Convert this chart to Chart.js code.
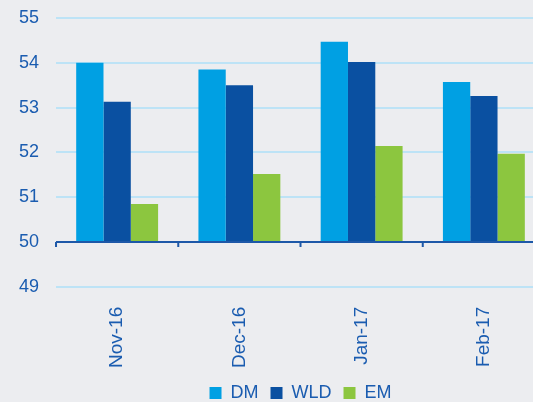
<!DOCTYPE html>
<html>
<head>
<meta charset="utf-8">
<script src="https://cdn.jsdelivr.net/npm/chart.js@4/dist/chart.umd.min.js"></script>
<style>
  html, body { margin: 0; padding: 0; background: #ecedf0; overflow: hidden; }
  #wrap { width: 545px; height: 402px; }
</style>
</head>
<body>
<div id="wrap"><canvas id="chart" width="545" height="402"></canvas></div>
<script>
const months = ['Nov-16', 'Dec-16', 'Jan-17', 'Feb-17'];
const dm = [54.0, 53.85, 54.47, 53.57];
const wld = [53.13, 53.5, 54.02, 53.26];
const em = [50.85, 51.52, 52.14, 51.97];
const yTicks = [49, 50, 51, 52, 53, 54, 55];

const textColor = '#1a5cb0';
const axisColor = '#1d58a8';
const font = { family: 'Liberation Sans, Arial, sans-serif', size: 18 };

// x axis line drawn at 50 with small tick marks between the months
const baseLine = {
    id: 'baseLine',
    afterDatasetsDraw(chart) {
        const ctx = chart.ctx;
        const x = chart.scales.x;
        const y = chart.scales.y.getPixelForValue(50);
        ctx.save();
        ctx.strokeStyle = axisColor;
        ctx.lineWidth = 2;
        ctx.beginPath();
        ctx.moveTo(x.left, y);
        ctx.lineTo(x.right, y);
        const step = (x.right - x.left) / months.length;
        for (let i = 0; i <= months.length; i++) {
            ctx.moveTo(x.left + i * step, y);
            ctx.lineTo(x.left + i * step, y + 5);
        }
        ctx.stroke();
        ctx.restore();
    }
};

new Chart(document.getElementById('chart').getContext('2d'), {
    type: 'bar',
    data: {
        labels: months,
        datasets: [
            { label: 'DM', data: dm, backgroundColor: '#00a0e3', base: 50 },
            { label: 'WLD', data: wld, backgroundColor: '#0a50a1', base: 50 },
            { label: 'EM', data: em, backgroundColor: '#8cc63f', base: 50 }
        ]
    },
    options: {
        responsive: false,
        animation: false,
        categoryPercentage: 0.67,
        barPercentage: 1.0,
        layout: { padding: { left: 2, top: 18, right: 0, bottom: -10 } },
        plugins: {
            tooltip: { enabled: false },
            legend: {
                position: 'bottom',
                fullSize: false,
                labels: {
                    boxWidth: 12,
                    boxHeight: 12,
                    padding: 12,
                    color: textColor,
                    font: font
                }
            }
        },
        scales: {
            x: {
                grid: { display: false },
                border: { display: false },
                ticks: {
                    color: textColor,
                    font: { family: font.family, size: 19 },
                    minRotation: 90,
                    maxRotation: 90,
                    padding: 12
                },
                afterFit(scale) { scale.height -= 8; }
            },
            y: {
                min: 49,
                max: 55,
                afterBuildTicks(scale) { scale.ticks = yTicks.map(v => ({ value: v })); },
                afterFit(scale) { scale.paddingTop = 0; scale.paddingBottom = 0; },
                grid: {
                    drawTicks: false,
                    lineWidth: 2,
                    color: c => (c.tick && c.tick.value === 50 ? 'rgba(0,0,0,0)' : '#bde3f6')
                },
                border: { display: false },
                ticks: {
                    color: textColor,
                    font: font,
                    padding: 17
                }
            }
        }
    },
    plugins: [baseLine]
});
</script>
</body>
</html>
